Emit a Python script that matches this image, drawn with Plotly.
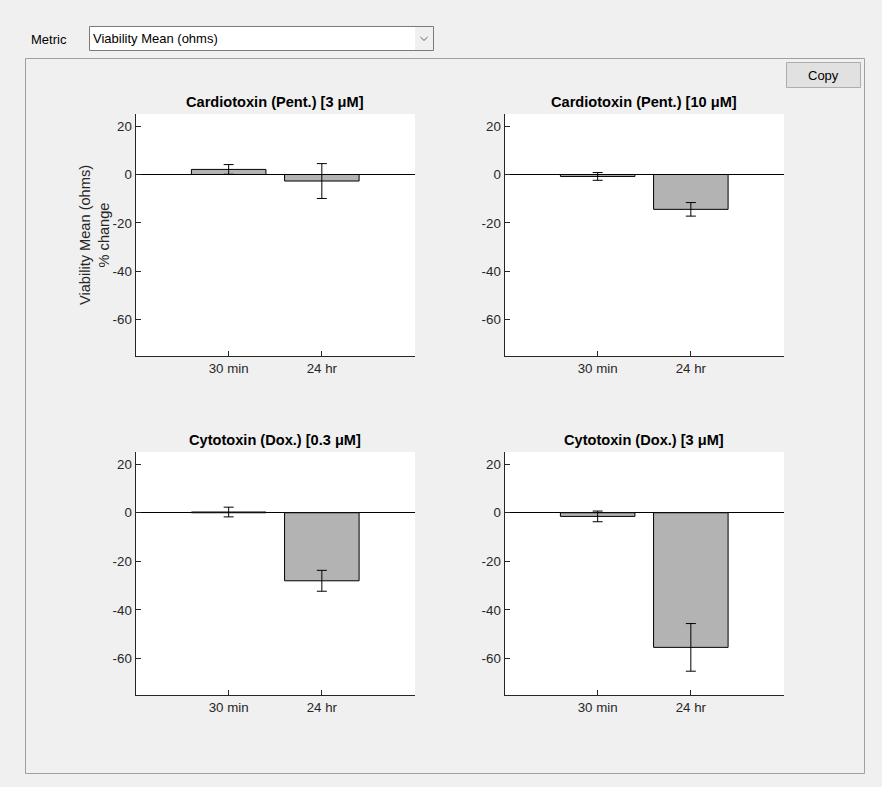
import plotly.graph_objects as go

W, H = 882, 787

categories = ["30 min", "24 hr"]
titles = ["Cardiotoxin (Pent.) [3 μM]", "Cardiotoxin (Pent.) [10 μM]",
          "Cytotoxin (Dox.) [0.3 μM]", "Cytotoxin (Dox.) [3 μM]"]
means_cardio_3 = [2.1, -2.7]
errs_cardio_3 = [2.0, 7.2]
means_cardio_10 = [-0.8, -14.4]
errs_cardio_10 = [1.6, 2.8]
means_dox_03 = [0.3, -28.0]
errs_dox_03 = [2.0, 4.3]
means_dox_3 = [-1.5, -55.4]
errs_dox_3 = [2.2, 9.8]
y_ticks = [20, 0, -20, -40, -60]
y_tick_labels = ["20", "0", "-20", "-40", "-60"]
metric_label = "Metric"
metric_value = "Viability Mean (ohms)"
y_title = "Viability Mean (ohms)<br>% change"

series = [(means_cardio_3, errs_cardio_3), (means_cardio_10, errs_cardio_10),
          (means_dox_03, errs_dox_03), (means_dox_3, errs_dox_3)]

# pixel boxes (left, right, top, bottom)
boxes = [(135.5, 415, 114, 356), (504.5, 784, 114, 356),
         (135.5, 415, 452, 695), (504.5, 784, 452, 695)]

def px(x):
    return x / W

def py(y):
    return 1 - y / H

FONT = "Liberation Sans, Arial, sans-serif"

fig = go.Figure()
layout = dict(
    width=W, height=H, margin=dict(l=0, r=0, t=0, b=0),
    paper_bgcolor="#f0f0f0", plot_bgcolor="white", showlegend=False,
    font=dict(family=FONT, size=13, color="#262626"),
)
annotations = []
shapes = []

# panel border
shapes.append(dict(type="rect", xref="paper", yref="paper", x0=px(25.5), x1=px(864.5),
                   y0=py(773.5), y1=py(58.5), line=dict(color="#a0a0a0", width=1),
                   fillcolor="rgba(0,0,0,0)", layer="below"))

xpos = [1, 2]
for i, ((m, e), (l, r, t, b), title) in enumerate(zip(series, boxes, titles)):
    k = "" if i == 0 else str(i + 1)
    fig.add_trace(go.Bar(
        x=xpos, y=m, width=0.8, xaxis="x" + k, yaxis="y" + k,
        marker=dict(color="#b3b3b3", line=dict(color="black", width=1)),
        error_y=dict(type="data", array=e, visible=True, color="black",
                     thickness=1, width=5),
        hoverinfo="skip",
    ))
    layout["xaxis" + k] = dict(
        domain=[px(l), px(r)], anchor="y" + k, range=[0, 3],
        tickvals=xpos, ticktext=categories, ticks="inside", ticklen=5,
        tickcolor="#262626", showline=True, linecolor="#262626", linewidth=1,
        showgrid=False, zeroline=False, fixedrange=True,
        tickfont=dict(size=13.3, color="#262626"),
    )
    layout["yaxis" + k] = dict(
        domain=[py(b), py(t)], anchor="x" + k, range=[-75, 25],
        tickvals=y_ticks, ticktext=y_tick_labels, ticks="inside", ticklen=5,
        tickcolor="#262626",
        showline=True, linecolor="#262626", linewidth=1, showgrid=False,
        zeroline=True, zerolinecolor="black", zerolinewidth=1,
        fixedrange=True, tickfont=dict(size=13.3, color="#262626"),
    )
    annotations.append(dict(
        text="<b>" + title + "</b>", xref="paper", yref="paper",
        x=px((l + r) / 2), y=py(t - 2), xanchor="center", yanchor="bottom",
        showarrow=False, font=dict(size=14.6, color="black"),
    ))

# y-axis title
annotations.append(dict(text=y_title, xref="paper", yref="paper", x=px(95), y=py(235),
                        xanchor="center", yanchor="middle", textangle=-90, showarrow=False,
                        font=dict(size=14.6, color="#262626")))

# Metric label and dropdown
annotations.append(dict(text=metric_label, xref="paper", yref="paper", x=px(29), y=py(40),
                        xanchor="left", yanchor="middle", showarrow=False,
                        font=dict(size=13, color="black")))
shapes.append(dict(type="rect", xref="paper", yref="paper", x0=px(89.5), x1=px(433.5),
                   y0=py(50.5), y1=py(26.5), line=dict(color="#7a7a7a", width=1),
                   fillcolor="white"))
shapes.append(dict(type="rect", xref="paper", yref="paper", x0=px(415), x1=px(433),
                   y0=py(50), y1=py(27), line=dict(width=0),
                   fillcolor="#f0f0f0"))
shapes.append(dict(type="path", xref="paper", yref="paper",
                   path="M %f %f L %f %f L %f %f" % (px(420.5), py(37), px(424), py(40.5), px(427.5), py(37)),
                   line=dict(color="#606060", width=1)))
annotations.append(dict(text=metric_value, xref="paper", yref="paper", x=px(91), y=py(39),
                        xanchor="left", yanchor="middle", showarrow=False,
                        font=dict(size=13, color="black")))

# Copy button
shapes.append(dict(type="rect", xref="paper", yref="paper", x0=px(786.5), x1=px(860.5),
                   y0=py(87.5), y1=py(62.5), line=dict(color="#adadad", width=1),
                   fillcolor="#e1e1e1"))
annotations.append(dict(text="Copy", xref="paper", yref="paper", x=px(823.5), y=py(75),
                        xanchor="center", yanchor="middle", showarrow=False,
                        font=dict(size=13, color="black")))

layout["annotations"] = annotations
layout["shapes"] = shapes
fig.update_layout(**layout)
fig.write_html("out.html", config={"displayModeBar": False},
               post_script="document.body.style.margin='0px';document.body.style.padding='0px';document.body.style.overflow='hidden';")
